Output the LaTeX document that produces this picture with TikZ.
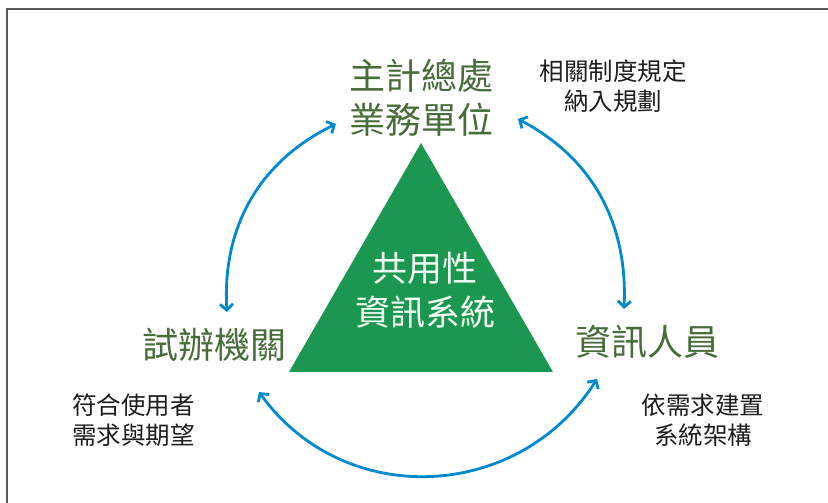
\documentclass[tikz,border=0pt]{standalone}
\usepackage{fontspec}
\setmainfont{Noto Sans CJK TC}
\usetikzlibrary{arrows.meta}
\definecolor{tri}{RGB}{27,151,82}
\definecolor{ttl}{RGB}{72,108,58}
\definecolor{arr}{RGB}{0,138,206}
\definecolor{frm}{RGB}{90,90,90}
\definecolor{note}{RGB}{30,30,30}
\tikzset{
  title/.style={text=ttl, font=\fontsize{36}{44}\selectfont, align=center, inner sep=0pt},
  notetext/.style={text=note, font=\fontsize{24.5}{30}\selectfont, inner sep=0pt},
  inner/.style={text=white!95!green, font=\fontsize{35}{44}\selectfont, align=center, inner sep=0pt},
  link/.style={draw=arr, line width=2.8pt, {Straight Barb[length=6pt,width=13pt]}-{Straight Barb[length=6pt,width=13pt]}},
}
\begin{document}
\begin{tikzpicture}[x=1pt,y=1pt]
\useasboundingbox (0,0) rectangle (828,503);
\fill[white] (0,0) rectangle (828,503);
\draw[frm, line width=1.5pt] (7,0) -- (7,494) -- (828,494);
% triangle
\fill[tri] (421,360) -- (553,131) -- (289,131) -- cycle;
\node[inner] (center) at (425,213) {共用性\\資訊系統};
% titles
\node[title] (top) at (421.5,405) {主計總處\\業務單位};
\node[title] (left) at (214,158) {試辦機關};
\node[title] (right) at (647,161) {資訊人員};
% notes
\node[notetext, align=center] (n1) at (613,416.5) {相關制度規定\\納入規劃};
\node[notetext, align=left, anchor=west] (n2) at (72,83) {符合使用者\\需求與期望};
\node[notetext, align=center] (n3) at (703,83) {依需求建置\\系統架構};
% arrow end points
\coordinate (a1) at (336,379);
\coordinate (b1) at (227,191);
\coordinate (a2) at (518,384);
\coordinate (b2) at (624,194);
\coordinate (a3) at (259,111);
\coordinate (b3) at (597,124);
\draw[link] (a1) to[out=205.8, in=93.5] (b1);
\draw[link] (a2) to[out=-27.7, in=87.4] (b2);
\draw[link] (a3) to[out=305.8, in=237.6, looseness=1.1] (b3);
\end{tikzpicture}
\end{document}
